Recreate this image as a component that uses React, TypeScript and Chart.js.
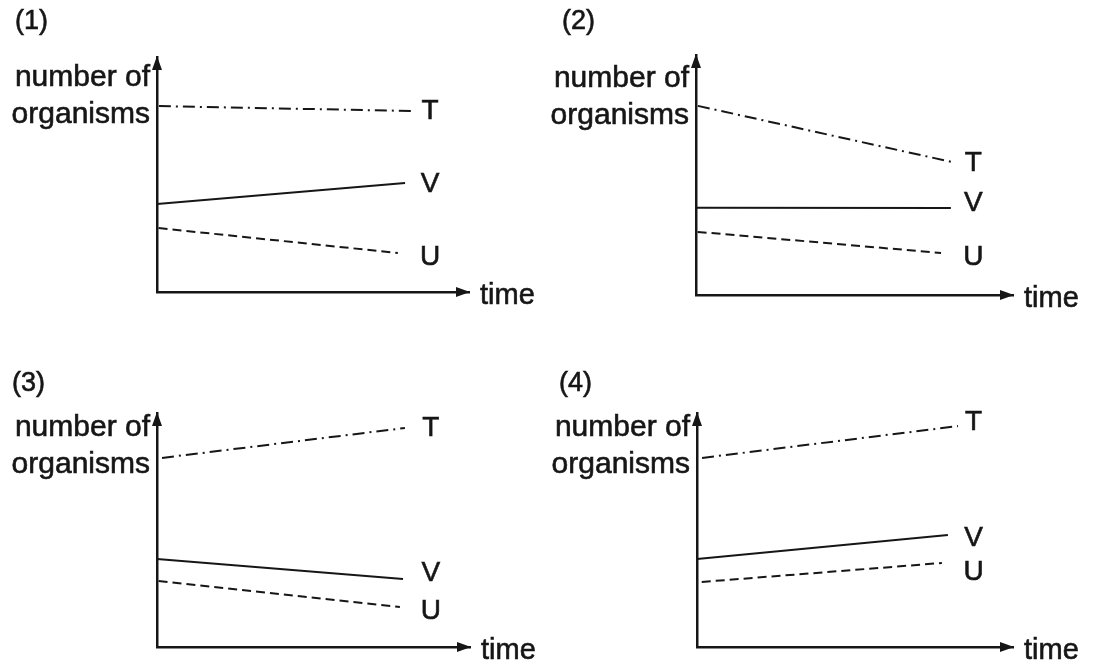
import React, { useEffect, useRef } from 'react';
import { Chart, registerables } from 'chart.js';

Chart.register(...registerables);

// ---- data (values in % of the axis length; y = 100 is the arrow tip) ----
const PANEL_LABELS = ['(1)', '(2)', '(3)', '(4)'];
const SERIES_NAMES = ['T', 'V', 'U'];
const Y_TITLE_LINES = ['number of', 'organisms'];
const X_TITLE = 'time';

const T_START_X = [0.6, 0.6, 1.6, 1.6];
const T_START = [79.1, 78.8, 80.8, 80.8];
const T_END_X = [82.7, 80.8, 79.2, 82.6];
const T_END = [77.0, 55.4, 93.6, 94.4];

const V_START_X = [0, 0, 0, 0];
const V_START = [37.4, 36.4, 37.6, 37.6];
const V_END_X = [79.5, 80.4, 78.6, 79.4];
const V_END = [46.4, 36.2, 29.1, 47.9];

const U_START_X = [0.5, 0.5, 0.5, 1.5];
const U_START = [27.2, 26.3, 28.2, 27.8];
const U_END_X = [77.2, 77.3, 77.6, 77.5];
const U_END = [16.6, 17.5, 17.1, 35.9];

const SERIES_LABEL_X = 87.5;

// ---- layout / style ----
const INK = '#161616';
const FONT = '"Liberation Sans", Arial, sans-serif';
const CW = 547;
const CH = 332;

// labelNudge: small pixel offsets of the T / V / U letters from their line ends
const PANELS = [
  { left: 0, top: 0, pad: { left: 157, right: 78, top: 57, bottom: 40 }, labelX: 15, labelY: 22, titleY: 86, labelNudge: [0, 1, 4] },
  { left: 547, top: 0, pad: { left: 149, right: 81, top: 55, bottom: 37 }, labelX: 15, labelY: 22, titleY: 87, labelNudge: [1, -5, 4] },
  { left: 0, top: 332, pad: { left: 157, right: 77, top: 81, bottom: 17 }, labelX: 12, labelY: 52, titleY: 104, labelNudge: [0, -6, 4] },
  { left: 547, top: 332, pad: { left: 150, right: 81, top: 81, bottom: 17 }, labelX: 12, labelY: 52, titleY: 104, labelNudge: [-4, 3, 9] },
];

const DASH_T = [12, 5, 2, 5];
const DASH_U = [9, 5];

function buildDatasets(i: number) {
  const rows = [
    { name: SERIES_NAMES[0], sx: T_START_X[i], sy: T_START[i], ex: T_END_X[i], ey: T_END[i], dash: DASH_T },
    { name: SERIES_NAMES[1], sx: V_START_X[i], sy: V_START[i], ex: V_END_X[i], ey: V_END[i], dash: [] as number[] },
    { name: SERIES_NAMES[2], sx: U_START_X[i], sy: U_START[i], ex: U_END_X[i], ey: U_END[i], dash: DASH_U },
  ];
  return rows.map((r) => ({
    label: r.name,
    data: [
      { x: r.sx, y: r.sy },
      { x: r.ex, y: r.ey },
    ],
    borderColor: INK,
    borderWidth: 2,
    borderDash: r.dash,
    pointRadius: 0,
    fill: false,
    tension: 0,
  }));
}

function inkText(ctx: CanvasRenderingContext2D, s: string, x: number, y: number) {
  ctx.fillText(s, x, y);
  ctx.strokeText(s, x, y);
}

function makeDecorPlugin(i: number) {
  const p = PANELS[i];
  return {
    id: 'decor' + i,
    afterDraw(chart: any) {
      const ctx = chart.ctx as CanvasRenderingContext2D;
      const xs = chart.scales.x;
      const ys = chart.scales.y;
      const L = xs.getPixelForValue(0);
      const R = xs.getPixelForValue(100);
      const B = ys.getPixelForValue(0);
      const T = ys.getPixelForValue(100);
      ctx.save();
      ctx.fillStyle = INK;
      ctx.strokeStyle = INK;
      ctx.lineWidth = 0.6;
      // arrow heads
      ctx.beginPath();
      ctx.moveTo(L, T - 1);
      ctx.lineTo(L - 5, T + 13);
      ctx.lineTo(L + 5, T + 13);
      ctx.closePath();
      ctx.fill();
      ctx.beginPath();
      ctx.moveTo(R + 1, B);
      ctx.lineTo(R - 13, B - 5);
      ctx.lineTo(R - 13, B + 5);
      ctx.closePath();
      ctx.fill();

      // panel label
      ctx.font = `27px ${FONT}`;
      ctx.textAlign = 'left';
      ctx.textBaseline = 'middle';
      inkText(ctx, PANEL_LABELS[i], p.labelX, p.labelY);

      // y title
      ctx.font = `30px ${FONT}`;
      ctx.textAlign = 'right';
      ctx.textBaseline = 'alphabetic';
      Y_TITLE_LINES.forEach((line, k) => {
        inkText(ctx, line, L - 7, p.titleY + k * 37);
      });

      // x title
      ctx.font = `29px ${FONT}`;
      ctx.textAlign = 'left';
      inkText(ctx, X_TITLE, R + 11, B + 12);

      // series labels at the ends of the lines
      ctx.font = `28px ${FONT}`;
      ctx.textAlign = 'center';
      ctx.textBaseline = 'middle';
      chart.data.datasets.forEach((ds: any, k: number) => {
        const last = ds.data[ds.data.length - 1];
        inkText(ctx, ds.label, xs.getPixelForValue(SERIES_LABEL_X), ys.getPixelForValue(last.y) + p.labelNudge[k]);
      });
      ctx.restore();
    },
  };
}

function Panel({ index }: { index: number }) {
  const ref = useRef<HTMLCanvasElement | null>(null);
  useEffect(() => {
    if (!ref.current) return;
    const p = PANELS[index];
    const chart = new Chart(ref.current, {
      type: 'line',
      data: { datasets: buildDatasets(index) as any },
      options: {
        animation: false,
        responsive: false,
        devicePixelRatio: 1,
        layout: { padding: p.pad },
        plugins: { legend: { display: false }, tooltip: { enabled: false }, title: { display: false } },
        scales: {
          x: {
            type: 'linear',
            min: 0,
            max: 100,
            ticks: { display: false },
            grid: { display: false, drawTicks: false },
            border: { display: true, color: INK, width: 2.5 },
          },
          y: {
            type: 'linear',
            min: 0,
            max: 100,
            ticks: { display: false },
            grid: { display: false, drawTicks: false },
            border: { display: true, color: INK, width: 2.5 },
          },
        },
      },
      plugins: [makeDecorPlugin(index)],
    });
    return () => chart.destroy();
  }, [index]);
  const p = PANELS[index];
  return (
    <canvas
      ref={ref}
      width={CW}
      height={CH}
      style={{ position: 'absolute', left: p.left, top: p.top, width: CW, height: CH }}
    />
  );
}

export default function App() {
  return (
    <div style={{ position: 'absolute', left: 0, top: 0, width: 1094, height: 664, background: '#ffffff', overflow: 'hidden' }}>
      {PANELS.map((_, i) => (
        <Panel key={i} index={i} />
      ))}
    </div>
  );
}
